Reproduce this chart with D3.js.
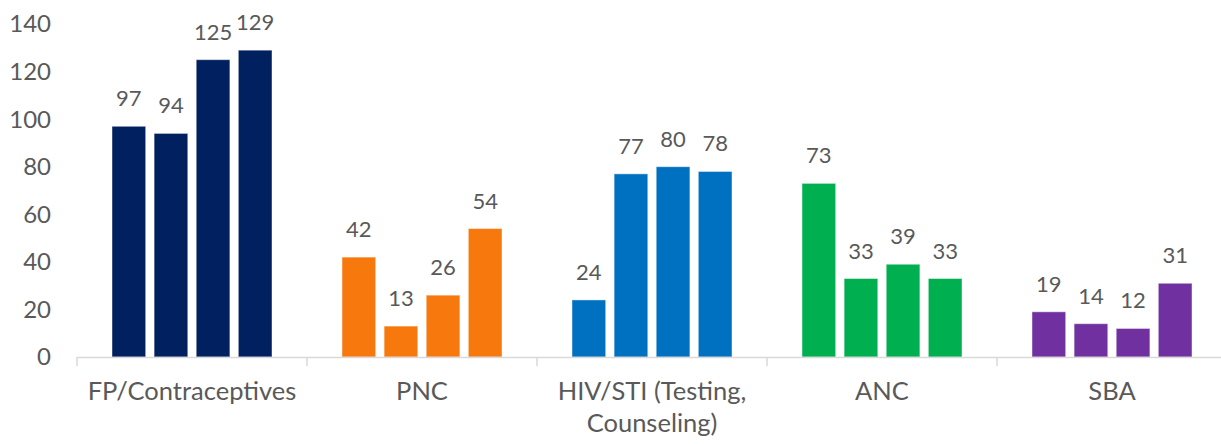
<!DOCTYPE html>
<html><head><meta charset="utf-8">
<script src="https://cdn.jsdelivr.net/npm/d3@7"></script>
<style>body{margin:0;background:#fff}svg{display:block}text{font-family:Lato,"Open Sans",sans-serif;fill:#595959}</style>
</head><body><svg id="c" width="1221" height="444"></svg>
<script>
const categories = ["FP/Contraceptives","PNC","HIV/STI (Testing, Counseling)","ANC","SBA"];
const categoryLines = [["FP/Contraceptives"],["PNC"],["HIV/STI (Testing,","Counseling)"],["ANC"],["SBA"]];
const seriesIdx = [0,1,2,3];
const values = [
  [97,94,125,129],
  [42,13,26,54],
  [24,77,80,78],
  [73,33,39,33],
  [19,14,12,31]
];
const colors = ["#00205F","#F7780D","#0070C0","#00B050","#7030A0"];
const yTicks = [0,20,40,60,80,100,120,140];

const svg = d3.select("#c");
const x0 = d3.scaleBand().domain(categories).range([77,1227]).padding(0);
const x1 = d3.scaleBand().domain(seriesIdx).range([35,195]).paddingInner(0.2).paddingOuter(0);
const y = d3.scaleLinear().domain([0,140]).range([357,24]);

// y tick labels
svg.append("g").selectAll("text").data(yTicks).join("text")
  .attr("x",51).attr("y",d=>y(d)).attr("dy","0.35em")
  .attr("text-anchor","end").style("font-size","24px").text(d=>d);

const groups = svg.append("g").selectAll("g").data(categories).join("g")
  .attr("transform",d=>`translate(${x0(d)},0)`);

groups.each(function(cat,ci){
  const g = d3.select(this);
  g.selectAll("rect").data(values[ci]).join("rect")
    .attr("x",(d,i)=>x1(i)).attr("width",x1.bandwidth())
    .attr("y",d=>y(d)).attr("height",d=>y(0)-y(d))
    .attr("fill",colors[ci]).attr("stroke","#ffffff").attr("stroke-opacity",0.45).attr("stroke-width",1);
  g.selectAll("text.lbl").data(values[ci]).join("text").attr("class","lbl")
    .attr("x",(d,i)=>x1(i)+x1.bandwidth()/2).attr("y",d=>y(d)-20)
    .attr("text-anchor","middle").style("font-size","22px").text(d=>d);
});

// x axis
const axis = svg.append("g");
axis.append("line").attr("x1",77).attr("x2",1227).attr("y1",357.5).attr("y2",357.5)
  .attr("stroke","#d9d9d9").attr("stroke-width",1.5);
const bounds = categories.map(c=>x0(c)).concat([x0(categories[categories.length-1])+x0.bandwidth()]);
axis.selectAll("line.t").data(bounds).join("line").attr("class","t")
  .attr("x1",d=>d).attr("x2",d=>d).attr("y1",357).attr("y2",366)
  .attr("stroke","#d9d9d9").attr("stroke-width",1.5);

const cl = svg.append("g").selectAll("text").data(categories).join("text")
  .attr("x",d=>x0(d)+x0.bandwidth()/2).attr("y",400)
  .attr("text-anchor","middle").style("font-size","25.5px");
cl.each(function(d,i){
  d3.select(this).selectAll("tspan").data(categoryLines[i]).join("tspan")
    .attr("x",x0(d)+x0.bandwidth()/2).attr("dy",(t,j)=>j===0?0:32).text(t=>t);
});
</script></body></html>
